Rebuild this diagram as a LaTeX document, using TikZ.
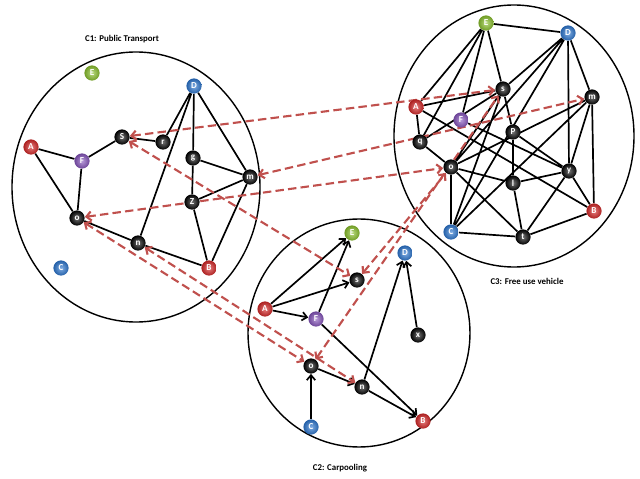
\documentclass[tikz,border=0pt]{standalone}
\usepackage{fontspec}
\setmainfont{Carlito}
\usetikzlibrary{arrows.meta}
\definecolor{ptred}{RGB}{215,40,40}
\definecolor{ptblue}{RGB}{45,120,210}
\definecolor{ptgreen}{RGB}{140,195,45}
\definecolor{ptpurple}{RGB}{135,85,190}
\definecolor{linkred}{RGB}{192,80,77}
\pgfdeclarelayer{bg}
\pgfsetlayers{bg,main}
\begin{document}
\begin{tikzpicture}[x=0.025cm,y=-0.025cm,
  vtx/.style={circle,inner sep=0pt,minimum size=0.38cm,shading=radial,
    inner color=black!55,outer color=black,text=white,
    font=\fontsize{6.5}{7}\selectfont\bfseries},
  redv/.style={vtx,inner color=ptred!60!white,outer color=ptred!80!black},
  bluev/.style={vtx,inner color=ptblue!60!white,outer color=ptblue!80!black},
  greenv/.style={vtx,inner color=ptgreen!60!white,outer color=ptgreen!80!black},
  purplev/.style={vtx,inner color=ptpurple!60!white,outer color=ptpurple!80!black},
  plainline/.style={line width=1.2pt},
  arcline/.style={line width=1.2pt,-{Straight Barb[length=3.5pt,width=6pt]}},
  xlink/.style={linkred,line width=1.5pt,dash pattern=on 6pt off 3pt,
    {Straight Barb[length=3.5pt,width=6.5pt]}-{Straight Barb[length=3.5pt,width=6.5pt]}},
  cluster/.style={line width=1pt},
  caption/.style={font=\fontsize{6.3}{7}\selectfont\bfseries}]
\useasboundingbox (0,0) rectangle (640,479);

% C1: public transport
\node[greenv] (pE) at (92,73) {E};
\node[bluev] (pD) at (194,86) {D};
\node[redv] (pA) at (31,147) {A};
\node[purplev] (pF) at (82,161) {F};
\node[vtx] (pS) at (122,137) {S};
\node[vtx] (pr) at (163,142) {r};
\node[vtx] (pg) at (193,158) {g};
\node[vtx] (pm) at (250,177) {m};
\node[vtx] (pZ) at (192,202) {Z};
\node[vtx] (po) at (77,218) {o};
\node[vtx] (pn) at (138,243) {n};
\node[redv] (pB) at (209,268) {B};
\node[bluev] (pC) at (61,268) {C};

% C2: carpooling
\node[greenv] (cE) at (352,233) {E};
\node[bluev] (cD) at (405,253) {D};
\node[vtx] (cs) at (357,280) {s};
\node[redv] (cA) at (265,309) {A};
\node[purplev] (cF) at (316,319) {F};
\node[vtx] (cx) at (418,335) {x};
\node[vtx] (co) at (311,366) {o};
\node[vtx] (cn) at (362,387) {n};
\node[redv] (cB) at (423,421) {B};
\node[bluev] (cC) at (311,427) {C};

% C3: free use vehicle
\node[greenv] (vE) at (486,23) {E};
\node[bluev] (vD) at (568,33) {D};
\node[vtx] (vs) at (503,89) {s};
\node[vtx] (vm) at (592,97) {m};
\node[redv] (vA) at (416,107) {A};
\node[purplev] (vF) at (461,120) {F};
\node[vtx] (vP) at (513,132) {P};
\node[vtx] (vq) at (420,142) {q};
\node[vtx] (vo) at (451,167) {o};
\node[vtx] (vy) at (569,171) {y};
\node[vtx] (vl) at (513,183) {l};
\node[redv] (vB) at (594,211) {B};
\node[bluev] (vC) at (451,232) {C};
\node[vtx] (vt) at (523,237) {t};

\node[caption] (c1lbl) at (122,39) {C1: Public Transport};
\node[caption] (c2lbl) at (340,468) {C2: Carpooling};
\node[caption] (c3lbl) at (527,281) {C3: Free use vehicle};

\begin{pgfonlayer}{bg}
\draw[cluster] (136,187) ellipse [x radius=124, y radius=135];
\draw[cluster] (359,333) ellipse [x radius=111, y radius=114];
\draw[cluster] (514,136) ellipse [x radius=120, y radius=131];

\draw[plainline] (pA)--(pF) (pA)--(po) (pF)--(pS) (pF)--(po) (pS)--(pr) (pr)--(pD)
  (pD)--(pn) (pD)--(pg) (pD)--(pm) (pg)--(pZ) (pg)--(pm) (pZ)--(pm) (pZ)--(pB)
  (pm)--(pB) (po)--(pn) (pn)--(pB);

\draw[arcline] (cA) edge (cE) edge (cs) edge (cF);
\draw[arcline] (cF) edge (cE) edge (cB);
\draw[arcline] (cC) edge (co);
\draw[arcline] (co) edge (cn);
\draw[arcline] (cn) edge (cB) edge (cD);
\draw[arcline] (cx) edge (cD);

\draw[plainline] (vE)--(vD) (vE)--(vs) (vE)--(vA) (vE)--(vq) (vE)--(vF)
  (vD)--(vs) (vD)--(vo) (vD)--(vC) (vD)--(vy) (vD)--(vm)
  (vA)--(vs) (vA)--(vq) (vA)--(vB) (vF)--(vy)
  (vq)--(vs) (vq)--(vo) (vs)--(vP) (vs)--(vo) (vs)--(vC)
  (vo)--(vl) (vo)--(vt) (vo)--(vC) (vo)--(vm)
  (vP)--(vl) (vP)--(vy) (vm)--(vy) (vm)--(vB) (vm)--(vC)
  (vy)--(vl) (vy)--(vB) (vy)--(vt) (vl)--(vt) (vC)--(vt) (vt)--(vB);

\draw[xlink] (pS)--(vs);
\draw[xlink] (pm)--(vm);
\draw[xlink] (po)--(vo);
\draw[xlink] (pS)--(cs);
\draw[xlink] (po)--(co);
\draw[xlink] (pn)--(cn);
\draw[xlink] (co)--(vs);
\draw[xlink] (cs)--(vo);
\end{pgfonlayer}
\end{tikzpicture}
\end{document}
